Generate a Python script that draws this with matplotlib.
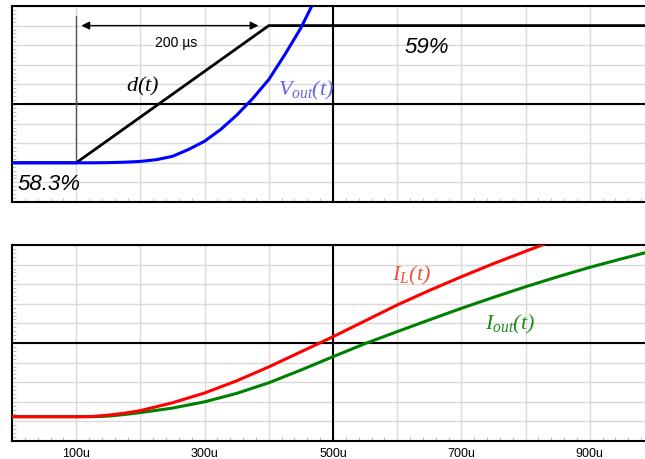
import matplotlib
matplotlib.use("Agg")
import matplotlib.pyplot as plt
from matplotlib.ticker import MultipleLocator

plt.rcParams["mathtext.fontset"] = "custom"
plt.rcParams["mathtext.rm"] = "Liberation Serif:italic"
plt.rcParams["mathtext.it"] = "Liberation Serif:italic"

# time axis in microseconds
t_duty = [0, 100, 400, 1000]
duty = [58.3, 58.3, 59.0, 59.0]  # %

t_vout = [0, 100, 125, 150, 175, 200, 225, 250, 275, 300, 325, 350, 375,
          400, 425, 450, 470]
vout = [58.300, 58.300, 58.300, 58.301, 58.303, 58.307, 58.316, 58.333,
        58.368, 58.410, 58.470, 58.543, 58.628, 58.725, 58.852, 58.988, 59.120]

t_il = [0, 100, 125, 150, 175, 200, 250, 300, 350, 400, 450, 500, 550, 600,
        650, 700, 750, 800, 830]
i_l = [1.24, 1.24, 1.25, 1.32, 1.42, 1.55, 1.95, 2.45, 3.07, 3.78, 4.55,
       5.32, 6.13, 6.94, 7.68, 8.38, 9.05, 9.68, 10.05]

t_iout = [0, 100, 125, 150, 175, 200, 250, 300, 350, 400, 450, 500, 550, 600,
          650, 700, 750, 800, 850, 900, 950, 1000]
i_out = [1.24, 1.24, 1.24, 1.27, 1.35, 1.45, 1.68, 2.00, 2.43, 2.97, 3.62,
         4.30, 4.97, 5.58, 6.18, 6.77, 7.33, 7.87, 8.38, 8.86, 9.30, 9.72]

x_ticks = [100, 200, 300, 400, 500, 600, 700, 800, 900]
x_labels = ["100u", "", "300u", "", "500u", "", "700u", "", "900u"]

fig = plt.figure(figsize=(6.45, 4.59), dpi=100)
ax1 = fig.add_axes([12 / 645, 257 / 459, 633 / 645, 196 / 459])
ax2 = fig.add_axes([12 / 645, 18 / 459, 633 / 645, 196 / 459])

grid_c = "#d9d9d9"
for ax in (ax1, ax2):
    ax.set_xlim(0, 986)
    ax.set_xticks(x_ticks)
    ax.xaxis.set_minor_locator(MultipleLocator(20))
    ax.grid(True, which="major", color=grid_c, lw=1.0)
    ax.tick_params(which="major", length=0)
    ax.tick_params(which="minor", direction="in", length=3, color="#c0c0c0",
                   width=0.8)
    ax.spines["right"].set_visible(False)
    for s in ("left", "top", "bottom"):
        ax.spines[s].set_linewidth(1.5)
    ax.axvline(500, color="black", lw=1.5, zorder=2)
    ax.set_axisbelow(True)

# top panel: duty cycle and output voltage
ax1.set_ylim(58.1, 59.1)
ax1.yaxis.set_major_locator(MultipleLocator(0.1))
ax1.yaxis.set_minor_locator(MultipleLocator(0.02))
ax1.set_yticklabels([])
ax1.set_xticklabels([])
ax1.axhline(58.6, color="black", lw=1.5, zorder=2)
ax1.plot([100, 100], [58.3, 59.05], color="#555555", lw=1.0, zorder=3)
ax1.plot(t_duty, duty, color="black", lw=2.0, zorder=4)
ax1.plot(t_vout, vout, color="#0000ff", lw=2.2, zorder=5)
ax1.annotate("", xy=(108, 59.0), xytext=(384, 59.0),
             arrowprops=dict(arrowstyle="<|-|>", color="black", lw=1.0,
                             shrinkA=0, shrinkB=0, mutation_scale=12))
ax1.text(255, 58.91, "200 µs", ha="center", va="center", fontsize=10,
         family="Liberation Sans")
ax1.text(204, 58.69, r"$d(t)$", ha="center", va="center",
         fontsize=16, color="black")
ax1.text(458, 58.67, r"$V_{out}(t)$", ha="center", va="center",
         fontsize=16, color="#6464e6")
ax1.text(8, 58.19, "58.3%", ha="left", va="center", fontsize=16,
         style="italic", family="Liberation Sans")
ax1.text(612, 58.89, "59%", ha="left", va="center", fontsize=16,
         style="italic", family="Liberation Sans")

# bottom panel: inductor and output currents
ax2.set_ylim(0, 10)
ax2.yaxis.set_major_locator(MultipleLocator(1))
ax2.yaxis.set_minor_locator(MultipleLocator(0.2))
ax2.set_yticklabels([])
ax2.set_xticklabels(x_labels, fontsize=9, family="Liberation Sans")
ax2.tick_params(axis="x", pad=5)
ax2.axhline(5, color="black", lw=1.5, zorder=2)
ax2.plot(t_iout, i_out, color="#008000", lw=2.2, zorder=4)
ax2.plot(t_il, i_l, color="#ff0000", lw=2.2, zorder=5)
ax2.text(623, 8.47, r"$I_L(t)$", ha="center", va="center",
         fontsize=16, color="#f05040")
ax2.text(776, 5.95, r"$I_{out}(t)$", ha="center", va="center",
         fontsize=16, color="#1a8a1a")

fig.savefig("out.png", dpi=100)
